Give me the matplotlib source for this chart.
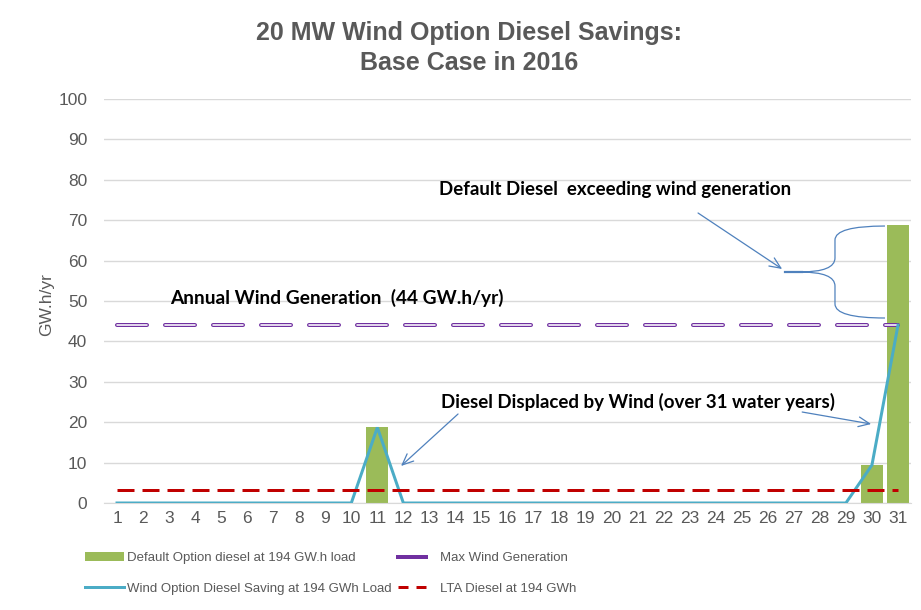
import matplotlib
matplotlib.use("Agg")
import matplotlib.pyplot as plt
from matplotlib.lines import Line2D
from matplotlib.patches import Patch, PathPatch
from matplotlib.path import Path
import numpy as np

# ---- data ----
years = list(range(1, 32))
default_diesel = [0]*10 + [18.7] + [0]*18 + [9.4, 68.8]
wind_saving = [0]*10 + [18.7] + [0]*18 + [9.4, 44.0]
max_wind = [44.0]*31
lta_diesel = [3.2]*31
y_ticks = list(range(0, 101, 10))

GREY = "#595959"
plt.rcParams["font.family"] = ["Liberation Sans", "DejaVu Sans"]
plt.rcParams["lines.scale_dashes"] = False

fig = plt.figure(figsize=(9.21, 6.1), dpi=100)
ax = fig.add_axes([104/921, 107/610, 807/921, 404/610])

ax.bar(years, default_diesel, width=0.85, color="#9BBB59", zorder=2)
# Max wind generation: hollow purple dashes
px2pt = 0.72
dash = (0, (30*px2pt, 18*px2pt))
ax.plot(years, max_wind, color="#7030A0", lw=4*px2pt, linestyle=dash,
        dash_capstyle="round", zorder=3)
ax.plot(years, max_wind, color="white", lw=1.6*px2pt, linestyle=dash,
        dash_capstyle="round", zorder=3.1)
ax.plot(years, wind_saving, color="#4BACC6", lw=3*px2pt, zorder=4,
        solid_joinstyle="miter")
ax.plot(years, lta_diesel, color="#C00000", lw=3*px2pt,
        linestyle=(0, (17*px2pt, 8*px2pt)), dash_capstyle="butt", zorder=5)

ax.set_xlim(0.5, 31.5)
ax.set_ylim(0, 100)
ax.set_xticks(years)
ax.set_yticks(y_ticks)
ax.tick_params(axis="both", length=0, labelsize=12.5, colors=GREY)
ax.tick_params(axis="y", pad=12)
ax.tick_params(axis="x", pad=6)
for s in ["top", "right", "left"]:
    ax.spines[s].set_visible(False)
ax.spines["bottom"].set_color("#D9D9D9")
ax.grid(axis="y", color="#D9D9D9", lw=1, zorder=0)
ax.set_axisbelow(True)
ax.set_ylabel("GW.h/yr", fontsize=12.5, color=GREY)
ax.yaxis.set_label_coords(-0.062, 0.49)

fig.text(469/921, 1 - 48/610, "20 MW Wind Option Diesel Savings:\nBase Case in 2016",
         ha="center", va="center", fontsize=18, fontweight="bold", color=GREY,
         linespacing=1.35)

# ---- annotations ----
afont = dict(family=["Lato", "DejaVu Sans"], fontweight="bold", color="black")
ax.text(20.13, 77.5, "Default Diesel  exceeding wind generation", ha="center", va="center",
        fontsize=13.4, **afont)
ax.text(9.45, 50.7, "Annual Wind Generation  (44 GW.h/yr)", ha="center", va="center",
        fontsize=13.8, **afont)
ax.text(21.02, 25.0, "Diesel Displaced by Wind (over 31 water years)", ha="center", va="center",
        fontsize=13.5, **afont)

ACOL = "#4F81BD"
aprops = dict(arrowstyle="->,head_length=0.8,head_width=0.35", color=ACOL, lw=0.9,
              shrinkA=0, shrinkB=0)
ax.annotate("", xy=(26.55, 57.92), xytext=(23.32, 71.78), arrowprops=aprops, zorder=6)
ax.annotate("", xy=(11.91, 9.16), xytext=(14.10, 22.03), arrowprops=aprops, zorder=6)
ax.annotate("", xy=(29.97, 19.55), xytext=(27.32, 22.52), arrowprops=aprops, zorder=6)

verts = [(30.50, 68.56), (28.58, 68.56), (28.58, 65.10),
         (28.58, 60.64),
         (28.58, 57.18), (27.24, 57.18),
         (26.66, 57.18),
         (27.24, 57.18),
         (28.58, 57.18), (28.58, 53.71),
         (28.58, 49.26),
         (28.58, 45.79), (30.50, 45.79)]
codes = [Path.MOVETO, Path.CURVE3, Path.CURVE3,
         Path.LINETO,
         Path.CURVE3, Path.CURVE3,
         Path.LINETO,
         Path.MOVETO,
         Path.CURVE3, Path.CURVE3,
         Path.LINETO,
         Path.CURVE3, Path.CURVE3]
ax.add_patch(PathPatch(Path(verts, codes), facecolor="none", edgecolor=ACOL, lw=0.9, zorder=6))
ax.plot([26.66, 27.3], [57.18, 57.18], color=ACOL, lw=1.6, zorder=6)

# ---- legend ----
h1 = [Patch(facecolor="#9BBB59"),
      Line2D([], [], color="#4BACC6", lw=3*px2pt)]
h2 = [Line2D([], [], color="#7030A0", lw=4*px2pt),
      Line2D([], [], color="#C00000", lw=3*px2pt, linestyle=(0, (10*px2pt, 8*px2pt)))]
common = dict(frameon=False, fontsize=9.5, borderpad=0, borderaxespad=0,
              labelspacing=1.4, loc="upper left", labelcolor=GREY)
fig.legend(h1, ["Default Option diesel at 194 GW.h load",
                "Wind Option Diesel Saving at 194 GWh Load"],
           bbox_to_anchor=(85/921, 1 - 552/610), handlelength=2.95, handletextpad=0.2,
           **common)
fig.legend(h2, ["Max Wind Generation", "LTA Diesel at 194 GWh"],
           bbox_to_anchor=(398/921, 1 - 552/610), handlelength=2.15, handletextpad=1.0,
           **common)

fig.savefig("out.png", dpi=100)
